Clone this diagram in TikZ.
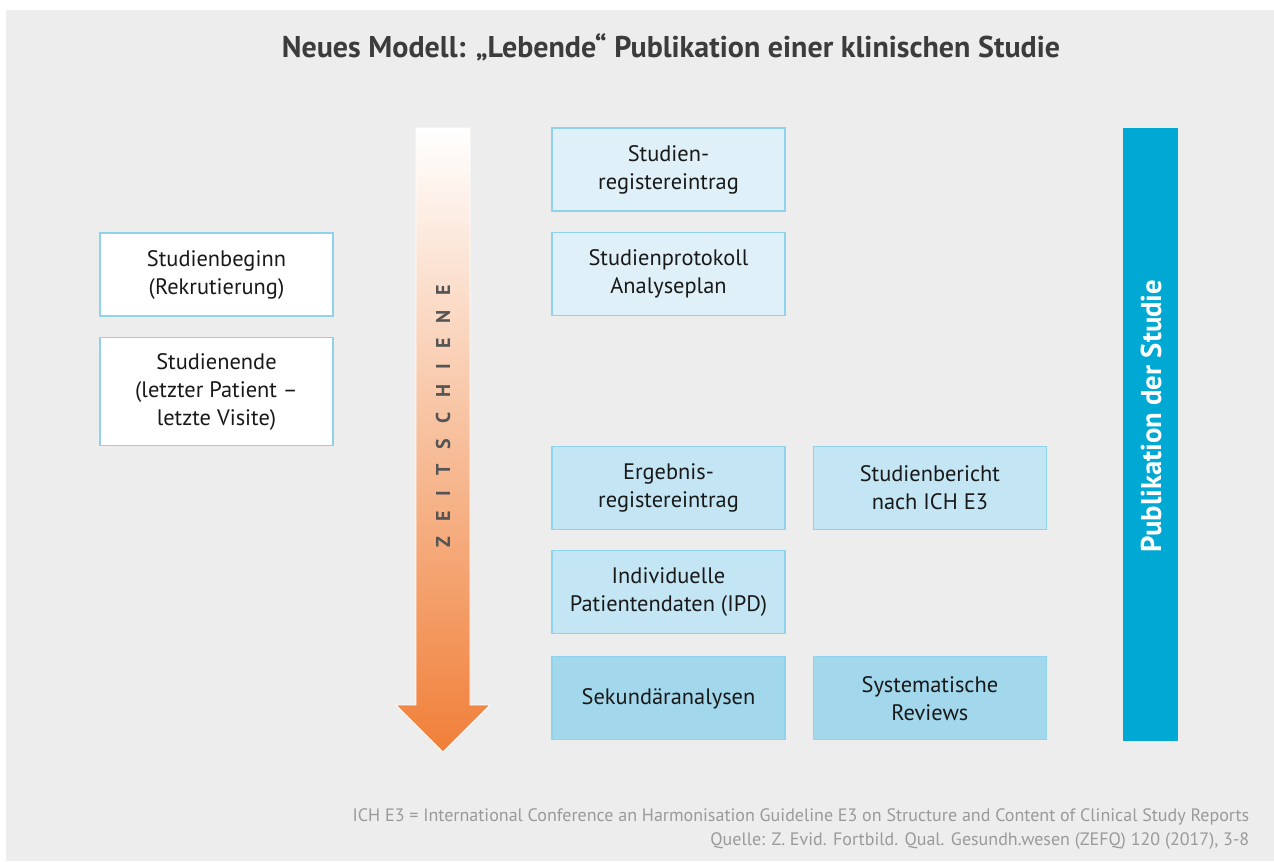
\documentclass[tikz,border=0pt]{standalone}
\usepackage{fontspec}
\setmainfont{PT Sans}
\usetikzlibrary{positioning,shadings}

\definecolor{bggray}{HTML}{EDEDED}
\definecolor{lightbox}{HTML}{DFF0F8}
\definecolor{midbox}{HTML}{C4E5F4}
\definecolor{darkbox}{HTML}{A2D7EC}
\definecolor{boxline}{HTML}{8ED2EC}
\definecolor{pubblue}{HTML}{00A9D3}
\definecolor{arroworange}{HTML}{F07F38}
\definecolor{titlegray}{HTML}{3C3C3C}
\definecolor{zeitgray}{HTML}{555555}
\definecolor{notegray}{HTML}{9A9A9A}

\begin{document}
\begin{tikzpicture}[x=0.75pt,y=-0.75pt,node distance=15.5pt,
  box/.style={draw=boxline,line width=0.8pt,minimum width=174.75pt,minimum height=62.25pt,
    inner sep=0pt,align=center,text=black!90,font=\fontsize{16.8}{21}\selectfont}]
  \useasboundingbox (0,0) rectangle (1274,861);
  \fill[white] (0,0) rectangle (1274,861);
  \fill[bggray] (6,10) rectangle (1274,861);

  \node[font=\bfseries\fontsize{22.5}{26}\selectfont,text=titlegray] (title) at (671,47)
    {Neues Modell: „Lebende“ Publikation einer klinischen Studie};

  \shade[top color=white,bottom color=arroworange,draw=white,line width=0.6pt]
    (416,128) -- (470,128) -- (470,705) -- (490,705) -- (443,752) -- (396,705) -- (416,705) -- cycle;
  \node[rotate=90,text=zeitgray,font=\bfseries\fontsize{15}{17}\selectfont\addfontfeatures{LetterSpace=75}]
    (zeit) at (443,416) {ZEITSCHIENE};

  \node[box,fill=white]                           (beg)  at (216.5,274.5) {Studienbeginn\\(Rekrutierung)};
  \node[box,fill=white,minimum height=81pt]       (end)  [below=of beg] {Studienende\\(letzter Patient –\\letzte Visite)};
  \node[box,fill=lightbox] (reg)  at (668.5,169.5) {Studien-\\registereintrag};
  \node[box,fill=lightbox] (prot) [below=of reg]    {Studienprotokoll\\Analyseplan};
  \node[box,fill=midbox]   (erg)  [below=97pt of prot] {Ergebnis-\\registereintrag};
  \node[box,fill=midbox]   (ipd)  [below=of erg]    {Individuelle\\Patientendaten (IPD)};
  \node[box,fill=darkbox]  (sek)  [below=16.5pt of ipd] {Sekundäranalysen};
  \node[box,fill=midbox]   (ber)  [right=20.5pt of erg] {Studienbericht\\nach ICH E3};
  \node[box,fill=darkbox]  (rev)  [right=20.5pt of sek] {Systematische\\Reviews};

  \node[fill=pubblue,minimum width=41.25pt,minimum height=459.75pt,inner sep=0pt] (pub) at (1150.5,434.5) {};
  \node[rotate=90,text=white,font=\bfseries\fontsize{21.5}{24}\selectfont] (publabel) at (1151,416) {Publikation der Studie};

  \node[anchor=east,align=right,text=notegray,font=\fontsize{13.5}{18}\selectfont] (note) at (1254,829)
    {ICH E3 = International Conference an Harmonisation Guideline E3 on Structure and Content of Clinical Study Reports\\
     Quelle: Z. Evid. Fortbild. Qual. Gesundh.wesen (ZEFQ) 120 (2017), 3-8};
\end{tikzpicture}
\end{document}
